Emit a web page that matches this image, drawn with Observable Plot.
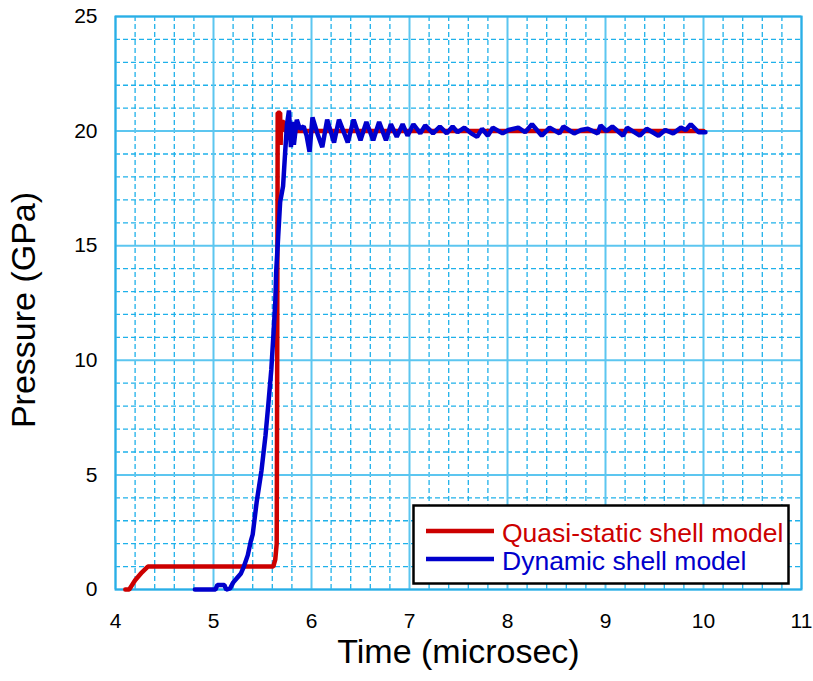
<!DOCTYPE html>
<html><head><meta charset="utf-8">
<script src="https://cdn.jsdelivr.net/npm/d3@7"></script>
<script src="https://cdn.jsdelivr.net/npm/@observablehq/plot@0.6"></script>
<style>
body{margin:0;background:#fff}
#wrap{position:relative;width:813px;height:681px;font-family:"Liberation Sans",Arial,sans-serif}
#legend{position:absolute;left:0;top:0;pointer-events:none}
</style>
</head><body><div id="wrap"></div>
<script>
// ---- data ----
const seriesNames = ["Quasi-static shell model", "Dynamic shell model"];
const seriesColors = ["#cc0000", "#0000cc"];
const xTicks = [4, 5, 6, 7, 8, 9, 10, 11];
const yTicks = [0, 5, 10, 15, 20, 25];

const quasiT = [4.10, 4.14, 4.20, 4.27, 4.33, 5.61, 5.63, 5.645, 5.65, 5.655, 5.68, 5.685, 5.69, 5.72, 5.73, 10.0];
const quasiP = [0.0, 0.0, 0.4, 0.75, 1.0, 1.0, 1.3, 2.0, 10.0, 20.8, 20.8, 19.4, 20.4, 20.4, 20.0, 20.0];

const dynT = [4.81, 5.02, 5.04, 5.11, 5.13, 5.17, 5.20, 5.24, 5.28, 5.31, 5.35, 5.38, 5.40, 5.44, 5.49, 5.53, 5.56, 5.59, 5.61, 5.63, 5.64, 5.66, 5.68, 5.71, 5.73, 5.75, 5.77, 5.79, 5.81, 5.82, 5.85, 5.88, 5.92, 5.95, 5.98, 6.01, 6.06, 6.11, 6.16, 6.23, 6.28, 6.37, 6.43, 6.50, 6.56, 6.63, 6.69, 6.76, 6.81, 6.87, 6.93, 6.98, 7.04, 7.11, 7.16, 7.24, 7.31, 7.38, 7.44, 7.49, 7.56, 7.63, 7.69, 7.74, 7.80, 7.85, 7.95, 8.01, 8.11, 8.18, 8.25, 8.35, 8.43, 8.53, 8.57, 8.68, 8.75, 8.82, 8.92, 8.95, 9.01, 9.07, 9.18, 9.22, 9.35, 9.42, 9.54, 9.61, 9.69, 9.77, 9.82, 9.87, 9.95, 10.02];
const dynP = [0.0, 0.0, 0.2, 0.2, 0.0, 0.05, 0.3, 0.5, 0.7, 1.0, 1.5, 2.1, 2.4, 3.8, 5.2, 6.7, 8.1, 9.6, 11.0, 12.5, 13.9, 15.4, 16.9, 17.6, 19.0, 20.3, 20.9, 19.3, 20.4, 19.4, 20.5, 20.1, 20.2, 19.8, 19.1, 20.6, 19.9, 19.3, 20.5, 19.5, 20.5, 19.5, 20.5, 19.6, 20.4, 19.6, 20.4, 19.6, 20.3, 19.75, 20.3, 19.8, 20.3, 19.9, 20.25, 19.9, 20.2, 19.9, 20.2, 19.95, 20.15, 19.9, 19.75, 20.1, 19.8, 20.15, 19.9, 20.05, 20.15, 19.95, 20.3, 19.8, 20.15, 19.9, 20.2, 19.9, 20.05, 20.1, 19.9, 20.25, 20.0, 20.2, 19.8, 20.15, 19.8, 20.1, 19.8, 20.05, 19.9, 20.15, 20.05, 20.3, 19.95, 19.95];

// ---- build ----
const quasi = quasiT.map((t, i) => ({t, p: quasiP[i]}));
const dyn = dynT.map((t, i) => ({t, p: dynP[i]}));
const xMinor = d3.range(4, 11.001, 0.2).filter(v => Math.abs(v - Math.round(v)) > 1e-6);
const yMinor = d3.range(0, 25.001, 1).filter(v => v % 5 !== 0);

const minorColor = "#1fb1ea";
const majorColor = "#5cc6f0";
const frameColor = "#2aaee6";

const chart = Plot.plot({
  width: 813, height: 681,
  marginLeft: 115, marginRight: 12, marginTop: 16, marginBottom: 92,
  style: {fontFamily: '"Liberation Sans", Arial, sans-serif', color: "#000", background: "#fff"},
  x: {domain: [4, 11]},
  y: {domain: [0, 25]},
  marks: [
    Plot.ruleX(xMinor, {stroke: minorColor, strokeWidth: 1.3, strokeDasharray: "5,3"}),
    Plot.ruleY(yMinor, {stroke: minorColor, strokeWidth: 1.3, strokeDasharray: "5,3"}),
    Plot.ruleX(xTicks, {stroke: majorColor, strokeWidth: 2}),
    Plot.ruleY(yTicks, {stroke: majorColor, strokeWidth: 2}),
    Plot.frame({stroke: frameColor, strokeWidth: 2}),
    Plot.axisX({ticks: xTicks, tickSize: 0, tickPadding: 24, fontSize: 21, label: null, tickFormat: d => String(d)}),
    Plot.axisY({ticks: yTicks, tickSize: 0, tickPadding: 18, fontSize: 21, label: null, tickFormat: d => String(d)}),
    Plot.line(quasi, {x: "t", y: "p", stroke: seriesColors[0], strokeWidth: 4.5, strokeLinejoin: "miter", curve: "linear"}),
    Plot.line(dyn, {x: "t", y: "p", stroke: seriesColors[1], strokeWidth: 4.5, strokeLinejoin: "miter", curve: "linear"}),
    Plot.text(["Time (microsec)"], {frameAnchor: "bottom", dy: 73, fontSize: 34, fill: "#000"}),
    Plot.text(["Pressure (GPa)"], {frameAnchor: "left", textAnchor: "middle", rotate: -90, dx: -91, dy: 7, fontSize: 34, fill: "#000"})
  ]
});
const wrap = document.getElementById("wrap");
wrap.appendChild(chart);

// ---- legend (overlay) ----
const ns = "http://www.w3.org/2000/svg";
const lg = document.createElementNS(ns, "svg");
lg.setAttribute("id", "legend");
lg.setAttribute("width", 813);
lg.setAttribute("height", 681);
const box = document.createElementNS(ns, "rect");
box.setAttribute("x", 413.5); box.setAttribute("y", 505.5);
box.setAttribute("width", 375); box.setAttribute("height", 78);
box.setAttribute("fill", "#fff"); box.setAttribute("stroke", "#000"); box.setAttribute("stroke-width", 2.5);
lg.appendChild(box);
seriesNames.forEach((name, i) => {
  const yy = 531 + i * 28;
  const ln = document.createElementNS(ns, "line");
  ln.setAttribute("x1", 426); ln.setAttribute("x2", 494);
  ln.setAttribute("y1", yy); ln.setAttribute("y2", yy);
  ln.setAttribute("stroke", seriesColors[i]); ln.setAttribute("stroke-width", 4.5);
  lg.appendChild(ln);
  const tx = document.createElementNS(ns, "text");
  tx.setAttribute("x", 502); tx.setAttribute("y", yy + 10.5);
  tx.setAttribute("fill", seriesColors[i]);
  tx.setAttribute("font-size", 26.5);
  tx.setAttribute("font-family", '"Liberation Sans", Arial, sans-serif');
  tx.textContent = name;
  lg.appendChild(tx);
});
wrap.appendChild(lg);
</script>
</body></html>
